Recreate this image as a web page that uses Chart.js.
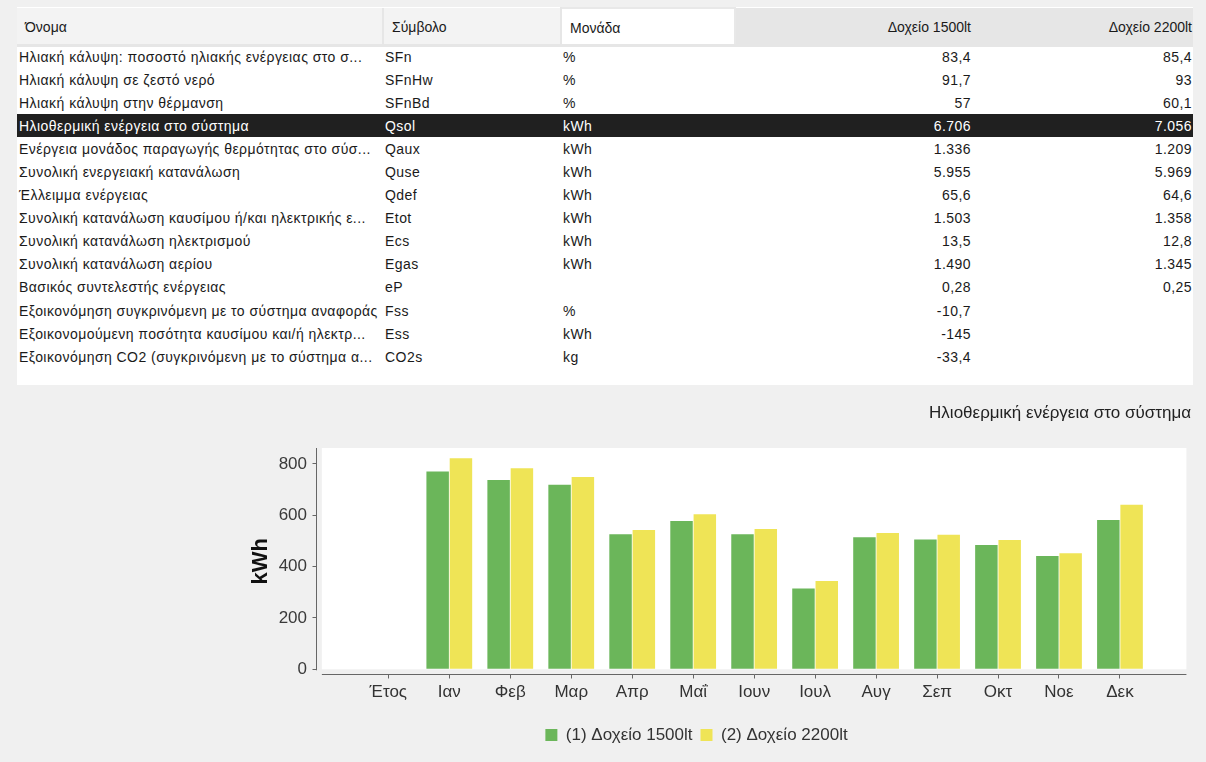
<!DOCTYPE html>
<html>
<head>
<meta charset="utf-8">
<title>Ηλιοθερμική ενέργεια στο σύστημα</title>
<script src="https://cdn.jsdelivr.net/npm/chart.js@4.4.1/dist/chart.umd.min.js"></script>
<style>
  html, body { margin: 0; padding: 0; }
  body {
    width: 1206px; height: 762px; overflow: hidden; position: relative;
    background: #f0f0f0; font-family: "Liberation Sans", Arial, sans-serif;
  }
  #results { position: absolute; left: 17px; top: 7px; width: 1176px; height: 378px; background: #fff; }
  #results table { border-collapse: collapse; table-layout: fixed; width: 1176px; font-size: 14px; color: #1a1a1a; }
  #results th {
    box-sizing: border-box; height: 37px; padding: 3px 8px 0 8px; font-weight: normal; text-align: left;
    background: #f3f3f3; border-bottom: 3px solid #e6e6e6; border-right: 2px solid #e6e6e6; white-space: nowrap;
  }
  #results th.unit { background: #fff; border: 2px solid #e8e8e8; border-bottom: 3px solid #e6e6e6; }
  #results th.num { background: #e6e6e6; text-align: right; padding-right: 1px; border-right: none; }
  #results td { box-sizing: border-box; height: 23.1px; padding: 0 2px; white-space: nowrap; overflow: hidden; letter-spacing: 0.45px; }
  #results td.num { text-align: right; padding-right: 1px; }
  #results tr.selected td { background: #202020; color: #fff; }
  #chartBox { position: absolute; left: 0; top: 390px; width: 1206px; height: 372px; }
</style>
</head>
<body>
<div id="results">
  <table>
    <colgroup>
      <col style="width:366px"><col style="width:178px"><col style="width:174px"><col style="width:237px"><col style="width:221px">
    </colgroup>
    <thead>
      <tr>
        <th>Όνομα</th><th>Σύμβολο</th><th class="unit">Μονάδα</th>
        <th class="num">Δοχείο 1500lt</th><th class="num">Δοχείο 2200lt</th>
      </tr>
    </thead>
    <tbody id="rows"></tbody>
  </table>
</div>
<div id="chartBox"><canvas id="solarChart" width="1206" height="372"></canvas></div>

<script>
// results table
const names = [
  'Ηλιακή κάλυψη: ποσοστό ηλιακής ενέργειας στο σ...',
  'Ηλιακή κάλυψη σε ζεστό νερό',
  'Ηλιακή κάλυψη στην θέρμανση',
  'Ηλιοθερμική ενέργεια στο σύστημα',
  'Ενέργεια μονάδος παραγωγής θερμότητας στο σύσ...',
  'Συνολική ενεργειακή κατανάλωση',
  'Έλλειμμα ενέργειας',
  'Συνολική κατανάλωση καυσίμου ή/και ηλεκτρικής ε...',
  'Συνολική κατανάλωση ηλεκτρισμού',
  'Συνολική κατανάλωση αερίου',
  'Βασικός συντελεστής ενέργειας',
  'Εξοικονόμηση συγκρινόμενη με το σύστημα αναφοράς',
  'Εξοικονομούμενη ποσότητα καυσίμου και/ή ηλεκτρ...',
  'Εξοικονόμηση CO2 (συγκρινόμενη με το σύστημα α...'
];
const symbols = ['SFn', 'SFnHw', 'SFnBd', 'Qsol', 'Qaux', 'Quse', 'Qdef', 'Etot', 'Ecs', 'Egas', 'eP', 'Fss', 'Ess', 'CO2s'];
const units = ['%', '%', '%', 'kWh', 'kWh', 'kWh', 'kWh', 'kWh', 'kWh', 'kWh', '', '%', 'kWh', 'kg'];
const results1500 = ['83,4', '91,7', '57', '6.706', '1.336', '5.955', '65,6', '1.503', '13,5', '1.490', '0,28', '-10,7', '-145', '-33,4'];
const results2200 = ['85,4', '93', '60,1', '7.056', '1.209', '5.969', '64,6', '1.358', '12,8', '1.345', '0,25', '', '', ''];
const selectedRow = 3;

let tbody = document.getElementById('rows');
names.forEach((name, i) => {
  let tr = document.createElement('tr');
  if (i === selectedRow) tr.className = 'selected';
  tr.innerHTML = '<td>' + name + '</td><td>' + symbols[i] + '</td><td>' + units[i] + '</td>' +
    '<td class="num">' + results1500[i] + '</td><td class="num">' + results2200[i] + '</td>';
  tbody.appendChild(tr);
});

// chart data (kWh per month)
const categories = ['Έτος', 'Ιαν', 'Φεβ', 'Μαρ', 'Απρ', 'Μαΐ', 'Ιουν', 'Ιουλ', 'Αυγ', 'Σεπ', 'Οκτ', 'Νοε', 'Δεκ'];
const tank1500 = [null, 770, 737, 719, 526, 578, 526, 315, 514, 506, 484, 441, 582];
const tank2200 = [null, 822, 783, 749, 543, 604, 546, 344, 531, 524, 504, 452, 641];
const yTicks = [0, 200, 400, 600, 800];

Chart.defaults.font.family = '"Liberation Sans", Arial, sans-serif';

// white plot background and the detached axis lines
const plotFrame = {
  id: 'plotFrame',
  beforeDraw(chart) {
    const { ctx, chartArea, scales: { x, y } } = chart;
    const left = x.getPixelForValue(-1.09);
    const right = x.getPixelForValue(13.09);
    const zero = y.getPixelForValue(0);
    ctx.save();
    ctx.fillStyle = '#fff';
    ctx.fillRect(left, chartArea.top, right - left, zero - chartArea.top);
    ctx.strokeStyle = '#666';
    ctx.lineWidth = 1;
    ctx.beginPath();
    ctx.moveTo(chartArea.left, chartArea.top);
    ctx.lineTo(chartArea.left, zero + 1);
    ctx.moveTo(left, chartArea.bottom);
    ctx.lineTo(right, chartArea.bottom);
    ctx.stroke();
    ctx.restore();
  }
};

let ctx = document.getElementById('solarChart');
let solarChart = new Chart(ctx, {
  type: 'bar',
  data: {
    datasets: [
      { label: '(1) Δοχείο 1500lt', data: tank1500.map((v, i) => ({ x: i, y: v })), backgroundColor: '#6bb65a' },
      { label: '(2) Δοχείο 2200lt', data: tank2200.map((v, i) => ({ x: i, y: v })), backgroundColor: '#efe456' }
    ]
  },
  options: {
    responsive: false,
    animation: false,
    devicePixelRatio: 1,
    categoryPercentage: 0.764,
    barPercentage: 0.965,
    layout: { padding: { left: 202, right: 15, top: 8, bottom: 8.5 } },
    scales: {
      x: {
        type: 'linear',
        min: -1.178,
        max: 13.165,
        offset: false,
        afterBuildTicks: s => { s.ticks = categories.map((c, i) => ({ value: i })); },
        afterFit: s => { s.height = 44; },
        ticks: { autoSkip: false, maxRotation: 0, padding: 4, color: '#333', font: { size: 17 }, callback: v => categories[v] },
        grid: { offset: false, drawOnChartArea: false, tickLength: 4, tickColor: '#666' },
        border: { display: false }
      },
      y: {
        min: -20.3,
        max: 862,
        afterBuildTicks: s => { s.ticks = yTicks.map(v => ({ value: v })); },
        afterFit: s => { s.width = 114.5; },
        ticks: { padding: 5.5, color: '#3a3a3a', font: { size: 17 } },
        grid: { drawOnChartArea: false, tickLength: 4, tickColor: '#666' },
        border: { display: false },
        title: { display: true, text: 'kWh', color: '#111', font: { size: 22, weight: 'bold' }, padding: { top: 45.3, bottom: 0 } }
      }
    },
    plugins: {
      title: {
        display: true,
        text: 'Ηλιοθερμική ενέργεια στο σύστημα',
        align: 'end',
        color: '#222',
        font: { size: 17, weight: 'normal' },
        padding: { top: 5, bottom: 24.6 }
      },
      legend: {
        position: 'bottom',
        labels: { boxWidth: 12, boxHeight: 12, padding: 8, color: '#333', font: { size: 17 } }
      },
      tooltip: { enabled: false }
    }
  },
  plugins: [plotFrame]
});
</script>
</body>
</html>
